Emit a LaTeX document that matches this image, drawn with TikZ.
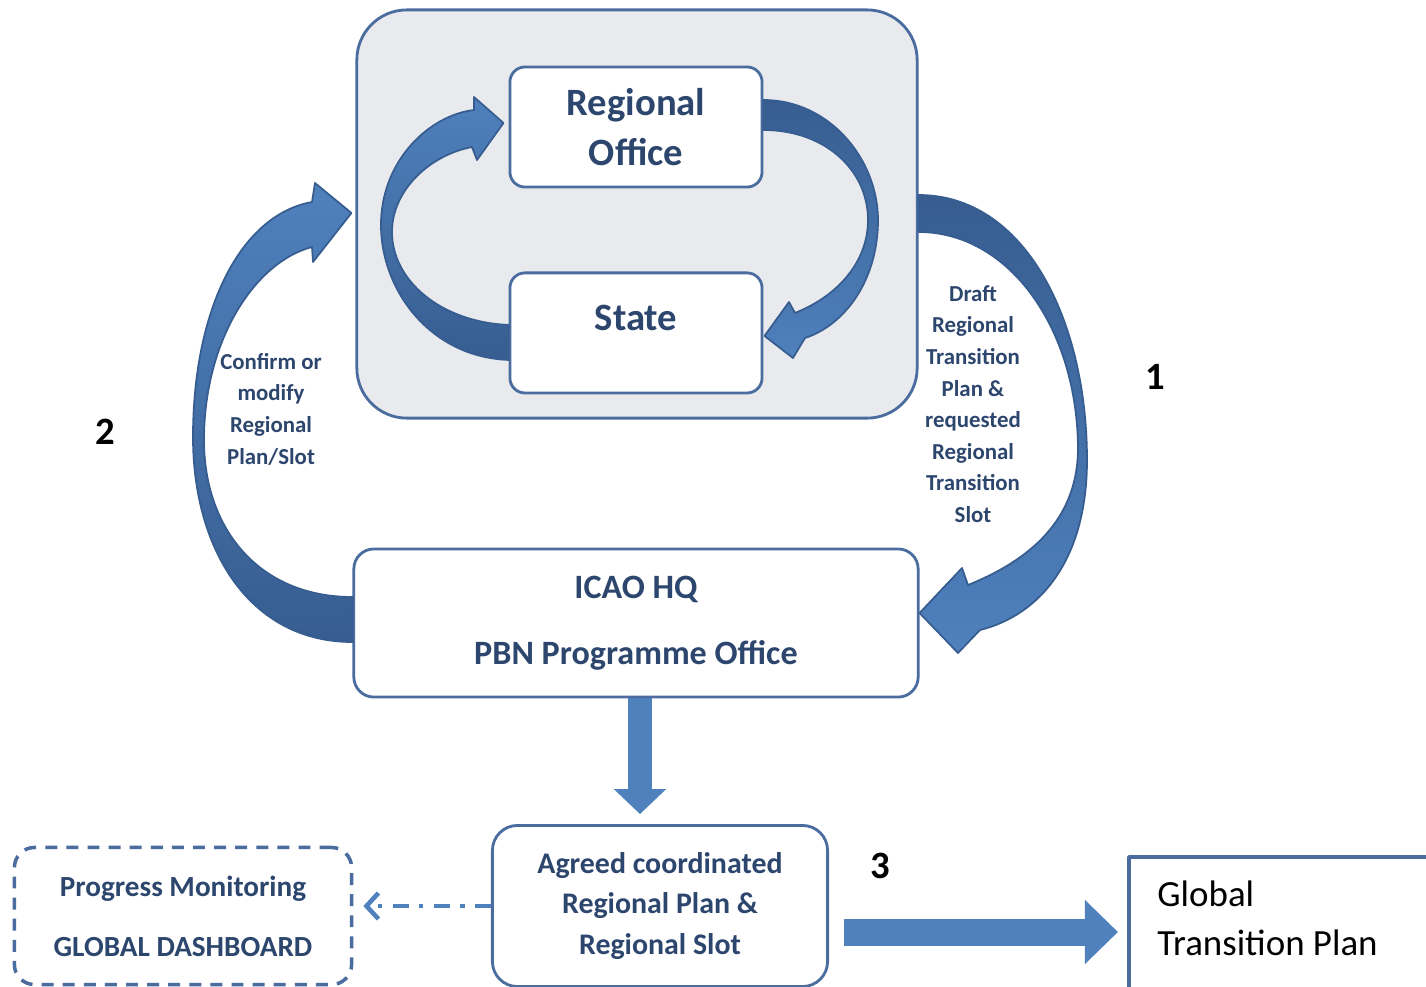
\documentclass[tikz,border=0pt]{standalone}
\usepackage{fontspec}
\setmainfont{Carlito}
\usetikzlibrary{positioning,arrows.meta,calc}

\definecolor{boxblue}{RGB}{74,108,158}
\definecolor{arrowblue}{RGB}{79,129,189}
\definecolor{arrowdark}{RGB}{55,93,144}
\definecolor{textblue}{RGB}{44,70,110}
\definecolor{panelgray}{RGB}{232,234,238}

\begin{document}
\begin{tikzpicture}[x=0.01cm, y=-0.01cm, line join=round,
blockbox/.style={draw=boxblue,line width=0.8pt,rounded corners=0.15cm,fill=white,align=center,text=textblue,inner sep=0pt},
ribbon/.style={draw=arrowdark,line width=0.5pt},
note/.style={align=center,text=textblue,font=\bfseries\fontsize{6.5}{9}\selectfont},
num/.style={text=black,font=\bfseries\fontsize{11}{13}\selectfont},
flow/.style={draw=arrowblue,line width=0.24cm,-{Triangle[width=0.51cm,length=0.25cm]}},
hint/.style={draw=arrowblue,line width=1.3pt,dash pattern=on 4.5pt off 3pt on 1.2pt off 3pt,-{Straight Barb[length=0.12cm,width=0.26cm]}}]

\useasboundingbox (0,0) rectangle (1426,987);
\clip (0,0) rectangle (1426,987);

% boxes
\node[blockbox, fill=panelgray, rounded corners=0.5cm, minimum width=5.6cm, minimum height=4.08cm] (panel) at (637,214) {};
\node[blockbox, minimum width=2.52cm, minimum height=1.2cm, font=\bfseries\fontsize{11}{14.2}\selectfont] (office) at (636,127) {Regional\\Office};
\node[blockbox, minimum width=2.52cm, minimum height=1.2cm, text depth=0.3cm, font=\bfseries\fontsize{11}{14.2}\selectfont] (state) [below=0.83cm of office] {State};
\node[blockbox, minimum width=5.64cm, minimum height=1.48cm, rounded corners=0.2cm, font=\bfseries\fontsize{9.7}{12}\selectfont] (icao) at (636,623) {ICAO HQ\\[6.8pt]PBN Programme Office};
\node[blockbox, minimum width=3.35cm, minimum height=1.61cm, rounded corners=0.25cm, font=\bfseries\fontsize{8.5}{11.5}\selectfont] (agreed) at (660,906) {Agreed coordinated\\Regional Plan \&\\Regional Slot};
\node[blockbox, dash pattern=on 3.4pt off 2.6pt, line width=1pt, minimum width=3.37cm, minimum height=1.37cm, rounded corners=0.2cm, font=\bfseries\fontsize{8.3}{17}\selectfont] (monitor) at (183,916) {Progress Monitoring\\GLOBAL DASHBOARD};
\node[draw=boxblue, line width=1.2pt, minimum width=3.3cm, minimum height=1.6cm, anchor=north west, inner sep=0pt] (gtp) at (1127,855) {};
\node[anchor=north west, align=left, font=\fontsize{10.5}{14}\selectfont] (gtptext) at (1145,868) {Global\\Transition Plan};

% labels
\node[note] (draft) at (973,404) {Draft\\Regional\\Transition\\Plan \&\\requested\\Regional\\Transition\\Slot};
\node[note] (confirm) at (271,409) {Confirm or\\modify\\Regional\\Plan/Slot};
\node[num] (one) at (1155,377) {1};
\node[num] (two) at (105,432) {2};
\node[num] (three) at (880,866) {3};

% curved arrows
\path[ribbon, top color=arrowdark, bottom color=arrowblue]
  ($(office.east)+(0,-27)$) .. controls (830,100) and (878,160) .. (878,220)
  .. controls (878,280) and (845,325) .. (805,338) -- (793,358)
  -- ($(state.east)+(1,3)$) -- (789,302) -- (795,313)
  .. controls (840,295) and (868,260) .. (868,220)
  .. controls (868,170) and (825,130) .. ($(office.east)+(0,3)$) -- cycle;
\path[ribbon, top color=arrowblue, bottom color=arrowdark]
  ($(state.west)+(0,27)$) .. controls (430,357) and (381,290) .. (381,225)
  .. controls (381,160) and (430,115) .. (474,110) -- (474,97)
  -- ($(office.west)+(-5,-4)$) -- (477,160) -- (472,147)
  .. controls (430,155) and (392,190) .. (392,232)
  .. controls (392,280) and (440,322) .. ($(state.west)+(0,-8)$) -- cycle;
\path[ribbon, top color=arrowdark, bottom color=arrowblue]
  ($(panel.east)+(0,-19)$) .. controls (1025,195) and (1087,320) .. (1087,460)
  .. controls (1087,560) and (1040,615) .. (980,630) -- (958,653)
  -- ($(icao.east)+(0,-10)$) -- (962,568) -- (968,585)
  .. controls (1030,560) and (1077,520) .. (1078,450)
  .. controls (1078,330) and (1010,232) .. ($(panel.east)+(0,18)$) -- cycle;
\path[ribbon, top color=arrowblue, bottom color=arrowdark]
  ($(icao.west)+(0,19)$) .. controls (250,642) and (193,550) .. (193,437)
  .. controls (193,310) and (240,215) .. (312,202) -- (315,183)
  -- ($(panel.west)+(-4,-1)$) -- (313,262) -- (312,247)
  .. controls (255,262) and (204,340) .. (204,440)
  .. controls (204,530) and (260,597) .. ($(icao.west)+(0,-26)$) -- cycle;

% straight arrows
\draw[flow, shorten >=0.1cm] ([xshift=0.04cm]icao.south) -- ([xshift=0.04cm]icao.south |- agreed.north);
\coordinate (start3) at ($(agreed.east)+(15,26)$);
\draw[flow, line width=0.27cm, -{Triangle[width=0.62cm,length=0.33cm]}, shorten >=0.09cm] (start3) -- (start3 -| gtp.west);
\draw[hint, shorten >=0.1cm] (agreed.west) -- (agreed.west -| monitor.east);
\end{tikzpicture}
\end{document}
